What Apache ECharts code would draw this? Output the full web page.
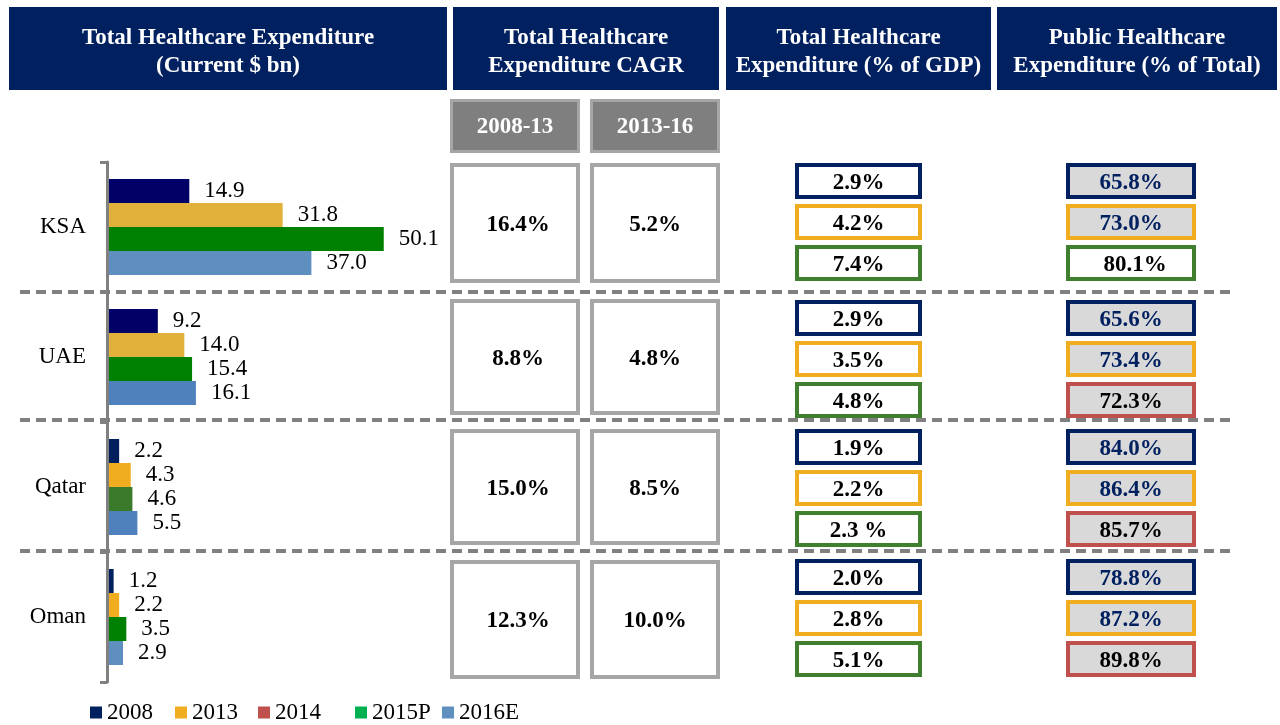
<!DOCTYPE html>
<html>
<head>
<meta charset="utf-8">
<script src="https://cdn.jsdelivr.net/npm/echarts@6/dist/echarts.min.js"></script>
<style>html,body{margin:0;padding:0;background:#fff;}#chart{width:1280px;height:725px;}</style>
</head>
<body>
<div id="chart"></div>
<script>
// ---------- DATA ----------
const countries = ['KSA', 'UAE', 'Qatar', 'Oman'];
const seriesNames = ['2008', '2013', '2014', '2015P', '2016E'];
const v2008 = [14.9, 9.2, 2.2, 1.2];
const v2013 = [31.8, 14.0, 4.3, 2.2];
const v2014 = [];
const v2015P = [50.1, 15.4, 4.6, 3.5];
const v2016E = [37.0, 16.1, 5.5, 2.9];
const headerTitles = [
  'Total Healthcare Expenditure\n(Current $ bn)',
  'Total Healthcare\nExpenditure CAGR',
  'Total Healthcare\nExpenditure (% of GDP)',
  'Public Healthcare\nExpenditure (% of Total)'
];
const cagrPeriods = ['2008-13', '2013-16'];
const cagr0813 = ['16.4%', '8.8%', '15.0%', '12.3%'];
const cagr1316 = ['5.2%', '4.8%', '8.5%', '10.0%'];
const gdpRow1 = ['2.9%', '2.9%', '1.9%', '2.0%'];
const gdpRow2 = ['4.2%', '3.5%', '2.2%', '2.8%'];
const gdpRow3 = ['7.4%', '4.8%', '2.3 %', '5.1%'];
const pubRow1 = ['65.8%', '65.6%', '84.0%', '78.8%'];
const pubRow2 = ['73.0%', '73.4%', '86.4%', '87.2%'];
const pubRow3 = ['80.1%', '72.3%', '85.7%', '89.8%'];

// ---------- STYLE ----------
const FONT = "'Liberation Serif', 'Times New Roman', serif";
const NAVY = '#002060', ORANGE = '#EFAD1F', RED = '#C0504D', GREEN_B = '#3F7F2F';
const legendColors = ['#002060', '#EFAD1F', '#C0504D', '#00B050', '#5F8FBF'];
const barColors = {
  '2008': ['#000066', '#000066', '#001F5C', '#002060'],
  '2013': ['#E2B13B', '#E2B13B', '#EFAD1F', '#EFAD1F'],
  '2015P': ['#008000', '#008000', '#3B7A2A', '#008000'],
  '2016E': ['#5F8FBF', '#4F81BD', '#4F81BD', '#5F8FBF']
};
const legendX = [85, 170, 253, 350, 437];

function barSeries(name, values) {
  return {
    name: name, type: 'bar', barWidth: 24, barGap: '0%', z: 12,
    data: values.map((v, i) => ({ value: v, itemStyle: { color: barColors[name][i] } })),
    itemStyle: { color: legendColors[seriesNames.indexOf(name)] },
    label: {
      show: true, position: 'right', distance: 15,
      fontFamily: FONT, fontSize: 23, color: '#000',
      formatter: p => p.value.toFixed(1)
    }
  };
}

// ---------- GRAPHIC LAYOUT ----------
const graphics = [];
function box(x1, y1, x2, y2, fill, stroke, lw) {
  graphics.push({
    type: 'rect', z: 10,
    shape: { x: x1 + lw / 2, y: y1 + lw / 2, width: x2 - x1 - lw, height: y2 - y1 - lw },
    style: { fill: fill, stroke: stroke, lineWidth: lw }
  });
}
function label(text, cx, cy, color, size, bold, lh) {
  graphics.push({
    type: 'text', z: 11,
    style: {
      text: text, x: cx, y: cy, align: 'center', verticalAlign: 'middle',
      fill: color, fontFamily: FONT, fontSize: size, fontWeight: bold ? 'bold' : 'normal',
      lineHeight: lh || size
    }
  });
}
// headers
const headerBoxes = [[9, 447], [453, 719], [726, 991], [997, 1277]];
headerBoxes.forEach((b, i) => {
  graphics.push({ type: 'rect', z: 10, shape: { x: b[0], y: 7, width: b[1] - b[0], height: 83 }, style: { fill: NAVY } });
  label(headerTitles[i], (b[0] + b[1]) / 2, 52, '#fff', 23, true, 28);
});
// CAGR sub-headers
const cagrCols = [[450, 580], [590, 720]];
cagrCols.forEach((c, i) => {
  box(c[0], 99, c[1], 153, '#7F7F7F', '#A6A6A6', 3);
  label(cagrPeriods[i], (c[0] + c[1]) / 2, 127, '#fff', 23, true);
});
// CAGR boxes
const cagrRows = [[163, 283], [299, 415], [429, 545], [560, 679]];
cagrRows.forEach((r, i) => {
  box(cagrCols[0][0], r[0], cagrCols[0][1], r[1], '#fff', '#A6A6A6', 4);
  box(cagrCols[1][0], r[0], cagrCols[1][1], r[1], '#fff', '#A6A6A6', 4);
  label(cagr0813[i], (cagrCols[0][0] + cagrCols[0][1]) / 2 + 3, (r[0] + r[1]) / 2 + 2, '#000', 23, true);
  label(cagr1316[i], (cagrCols[1][0] + cagrCols[1][1]) / 2, (r[0] + r[1]) / 2 + 2, '#000', 23, true);
});
// GDP and public boxes
const groupTops = [163, 300, 429, 559];
const gdpCol = [795, 922], pubCol = [1066, 1196];
const rowBorder = [NAVY, ORANGE, GREEN_B];
const gdpRows = [gdpRow1, gdpRow2, gdpRow3];
const pubRows = [pubRow1, pubRow2, pubRow3];
groupTops.forEach((t, i) => {
  for (let k = 0; k < 3; k++) {
    const y1 = t + k * 41, y2 = y1 + 36;
    box(gdpCol[0], y1, gdpCol[1], y2, '#fff', rowBorder[k], 4);
    label(gdpRows[k][i], (gdpCol[0] + gdpCol[1]) / 2, (y1 + y2) / 2 + 2, '#000', 23, true);
    let pFill = '#D9D9D9', pStroke = rowBorder[k], pText = NAVY, dx = 0;
    if (k === 2) {
      pText = '#000';
      if (i === 0) { pFill = '#fff'; pStroke = GREEN_B; dx = 4; } else { pStroke = RED; }
    }
    box(pubCol[0], y1, pubCol[1], y2, pFill, pStroke, 4);
    label(pubRows[k][i], (pubCol[0] + pubCol[1]) / 2 + dx, (y1 + y2) / 2 + 2, pText, 23, true);
  }
});
// dashed separators
[292, 420, 551].forEach(y => {
  graphics.push({
    type: 'line', z: 9,
    shape: { x1: 20, y1: y, x2: 1232, y2: y },
    style: { stroke: '#808080', lineWidth: 4, lineDash: [10, 6] }
  });
});

// ---------- CHART ----------
const chart = echarts.init(document.getElementById('chart'), null, { renderer: 'canvas' });
chart.setOption({
  animation: false,
  backgroundColor: '#fff',
  textStyle: { fontFamily: FONT },
  grid: { left: 107, top: 162, height: 520, right: 825, containLabel: false },
  xAxis: { type: 'value', min: 0, max: 63, show: false },
  yAxis: {
    type: 'category', data: countries, inverse: true, z: 13,
    axisLine: { show: true, lineStyle: { color: '#808080', width: 3 } },
    axisTick: { show: true, length: 7, lineStyle: { color: '#808080', width: 3 } },
    axisLabel: { fontFamily: FONT, fontSize: 23, color: '#000', margin: 21 },
    splitLine: { show: false }
  },
  legend: seriesNames.map((n, i) => ({
    data: [{ name: n, itemStyle: { color: legendColors[i] } }],
    left: legendX[i], top: 696, icon: 'rect', itemWidth: 12, itemHeight: 12, itemGap: 5,
    textStyle: { fontFamily: FONT, fontSize: 23, color: '#000' },
    selectedMode: false
  })),
  series: [
    barSeries('2008', v2008),
    barSeries('2013', v2013),
    { name: '2014', type: 'line', data: v2014, itemStyle: { color: legendColors[2] }, lineStyle: { color: legendColors[2] } },
    barSeries('2015P', v2015P),
    barSeries('2016E', v2016E)
  ],
  graphic: graphics
});
</script>
</body>
</html>
